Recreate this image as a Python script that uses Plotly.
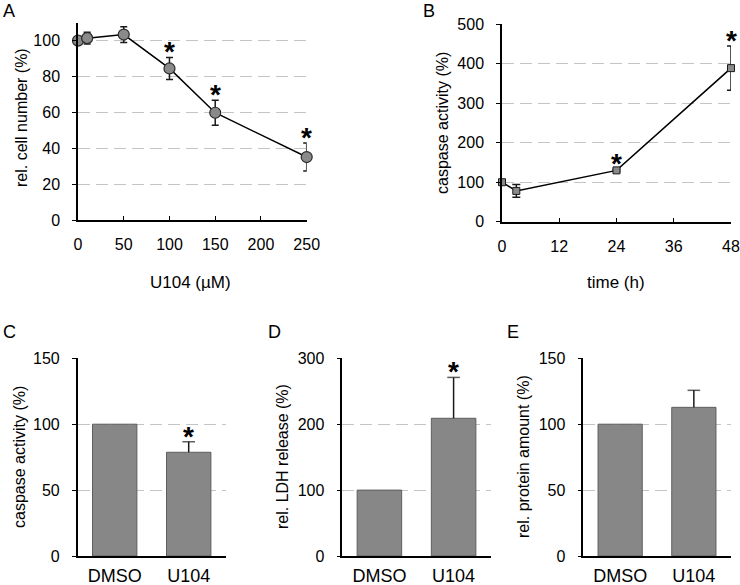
import plotly.graph_objects as go

# ---------------- data ----------------
# Panel A
a_conc = [0, 10, 50, 100, 150, 250]
a_cell = [100, 101.4, 103.4, 84.5, 59.8, 35.1]
a_err = [0, 3.3, 4.4, 6.1, 7.0, 7.8]
a_sig = [False, False, False, True, True, True]
a_xticks = [0, 50, 100, 150, 200, 250]
a_yticks = [0, 20, 40, 60, 80, 100]

# Panel B
b_time = [0, 3, 24, 48]
b_casp = [100, 78, 130, 389]
b_err = [0, 16, 3, 56]
b_sig = [False, False, True, True]
b_xticks = [0, 12, 24, 36, 48]
b_yticks = [0, 100, 200, 300, 400, 500]

# Panels C, D, E
cats = ["DMSO", "U104"]
c_vals = [100, 78.7]
c_err = [0, 8.0]
c_sig = [False, True]
d_vals = [100, 209]
d_err = [0, 62]
d_sig = [False, True]
e_vals = [100, 112.8]
e_err = [0, 12.9]
e_sig = [False, False]

W, H = 740, 585
FONT = "Liberation Sans, Arial, sans-serif"

def px_x(p):
    return p / W

def px_y(p):
    return 1 - p / H

fig = go.Figure()

# ---------------- Panel A ----------------
fig.add_trace(go.Scatter(
    x=a_conc, y=a_cell, mode="lines+markers", xaxis="x", yaxis="y",
    line=dict(color="black", width=1.5),
    marker=dict(symbol="circle", size=11, color="#8a8a8a",
                line=dict(color="#2a2a2a", width=1.2)),
    error_y=dict(type="data", array=a_err, visible=True, color="#1a1a1a",
                 thickness=1.5, width=3.5),
    cliponaxis=False, showlegend=False))

# ---------------- Panel B ----------------
fig.add_trace(go.Scatter(
    x=b_time, y=b_casp, mode="lines+markers", xaxis="x2", yaxis="y2",
    line=dict(color="black", width=1.5),
    marker=dict(symbol="square", size=7, color="#8a8a8a",
                line=dict(color="#1a1a1a", width=1)),
    error_y=dict(type="data", array=b_err, visible=True, color="#1a1a1a",
                 thickness=1.5, width=4),
    cliponaxis=False, showlegend=False))

# ---------------- Bar panels ----------------
bar_sets = [(c_vals, c_err, c_sig, "x3", "y3"),
            (d_vals, d_err, d_sig, "x4", "y4"),
            (e_vals, e_err, e_sig, "x5", "y5")]
for vals, errs, sigs, xa, ya in bar_sets:
    fig.add_trace(go.Bar(
        x=cats, y=vals, xaxis=xa, yaxis=ya, width=0.6,
        marker=dict(color="#878787", line=dict(color="#5e5e5e", width=1)),
        showlegend=False))
    for c, v, e in zip(cats, vals, errs):
        if e > 0:
            fig.add_trace(go.Scatter(
                x=[c, c], y=[v, v + e], xaxis=xa, yaxis=ya,
                mode="lines+markers",
                line=dict(color="#1a1a1a", width=1.5),
                marker=dict(symbol="line-ew-open", size=[0, 9],
                            line=dict(color="#1a1a1a", width=1.5)),
                cliponaxis=False, showlegend=False))

# ---------------- significance asterisks ----------------
annotations = []

def add_stars(xs, ys, es, sigs, xref, yref, shift):
    for x, y, e, s in zip(xs, ys, es, sigs):
        if s:
            annotations.append(dict(
                x=x, y=y + e, xref=xref, yref=yref, text="<b>*</b>",
                showarrow=False, yanchor="bottom", yshift=shift,
                font=dict(family=FONT, size=28, color="black")))

add_stars(a_conc, a_cell, a_err, a_sig, "x", "y", -12)
add_stars(b_time, b_casp, b_err, b_sig, "x2", "y2", -12)
add_stars(cats, c_vals, c_err, c_sig, "x3", "y3", -12)
add_stars(cats, d_vals, d_err, d_sig, "x4", "y4", -12)
add_stars(cats, e_vals, e_err, e_sig, "x5", "y5", -12)

# ---------------- panel letters ----------------
for letter, (lx, ly) in zip("ABCDE", [(9, 11), (429, 11), (9, 332), (274, 332), (513, 332)]):
    annotations.append(dict(x=px_x(lx), y=px_y(ly), xref="paper", yref="paper",
                            text=letter, showarrow=False, xanchor="center",
                            yanchor="middle",
                            font=dict(family=FONT, size=18, color="black")))

# ---------------- axis titles ----------------
ytitles = [("rel. cell number (%)", 22, 118),
           ("caspase activity (%)", 442, 123),
           ("caspase activity (%)", 19, 457),
           ("rel. LDH release (%)", 282, 457),
           ("rel. protein amount (%)", 523, 457)]
for t, tx, ty in ytitles:
    annotations.append(dict(x=px_x(tx), y=px_y(ty), xref="paper", yref="paper",
                            text=t, showarrow=False, textangle=-90,
                            xanchor="center", yanchor="middle",
                            font=dict(family=FONT, size=16, color="black")))

xtitles = [("U104 (µM)", 190, 282), ("time (h)", 616, 282)]
for t, tx, ty in xtitles:
    annotations.append(dict(x=px_x(tx), y=px_y(ty), xref="paper", yref="paper",
                            text=t, showarrow=False,
                            xanchor="center", yanchor="middle",
                            font=dict(family=FONT, size=17, color="black")))

grid = dict(showgrid=True, gridcolor="#c4c4c4", gridwidth=1, griddash="12px,6px")
axline = dict(showline=True, linecolor="black", linewidth=1.5, zeroline=False,
              tickfont=dict(family=FONT, size=16, color="black"))

def yax(dom, rng, ticks, anchor):
    return dict(domain=[px_y(dom[1]), px_y(dom[0])], range=rng, tickvals=ticks,
                anchor=anchor, ticks="outside", ticklen=4, tickcolor="black",
                tickwidth=1, ticklabelstandoff=9, automargin=False, **grid, **axline)

def xax(dom, rng, ticks, anchor):
    return dict(domain=[px_x(dom[0]), px_x(dom[1])], range=rng, tickvals=ticks,
                anchor=anchor, ticks="inside", ticklen=4, tickcolor="black",
                tickwidth=1, showgrid=False, ticklabelstandoff=9, automargin=False,
                **axline)

def xcat(dom, anchor):
    d = dict(domain=[px_x(dom[0]), px_x(dom[1])], range=[-0.5, 1.5],
             type="category", anchor=anchor, ticks="", showgrid=False,
             ticklabelstandoff=3, automargin=False, **axline)
    d["tickfont"] = dict(family=FONT, size=18, color="black")
    return d

fig.update_layout(
    width=W, height=H,
    margin=dict(l=0, r=0, t=0, b=0, pad=0, autoexpand=False),
    paper_bgcolor="white", plot_bgcolor="white",
    font=dict(family=FONT, color="black"),
    xaxis=xax((78, 306.7), [0, 250], a_xticks, "y"),
    yaxis=yax((22.7, 220), [0, 110], a_yticks, "x"),
    xaxis2=xax((502, 731), [0, 48], b_xticks, "y2"),
    yaxis2=yax((24.3, 221.7), [0, 500], b_yticks, "x2"),
    xaxis3=xcat((77.7, 225.7), "y3"),
    yaxis3=yax((358.3, 556), [0, 150], [0, 50, 100, 150], "x3"),
    xaxis4=xcat((342.3, 490.7), "y4"),
    yaxis4=yax((358.3, 556), [0, 300], [0, 100, 200, 300], "x4"),
    xaxis5=xcat((583.3, 730.7), "y5"),
    yaxis5=yax((358.3, 556), [0, 150], [0, 50, 100, 150], "x5"),
    annotations=annotations,
    bargap=0.4,
)

fig.write_html(
    "out.html",
    config={"displayModeBar": False},
    post_script="document.body.style.margin='0';document.body.style.overflow='hidden';",
)
